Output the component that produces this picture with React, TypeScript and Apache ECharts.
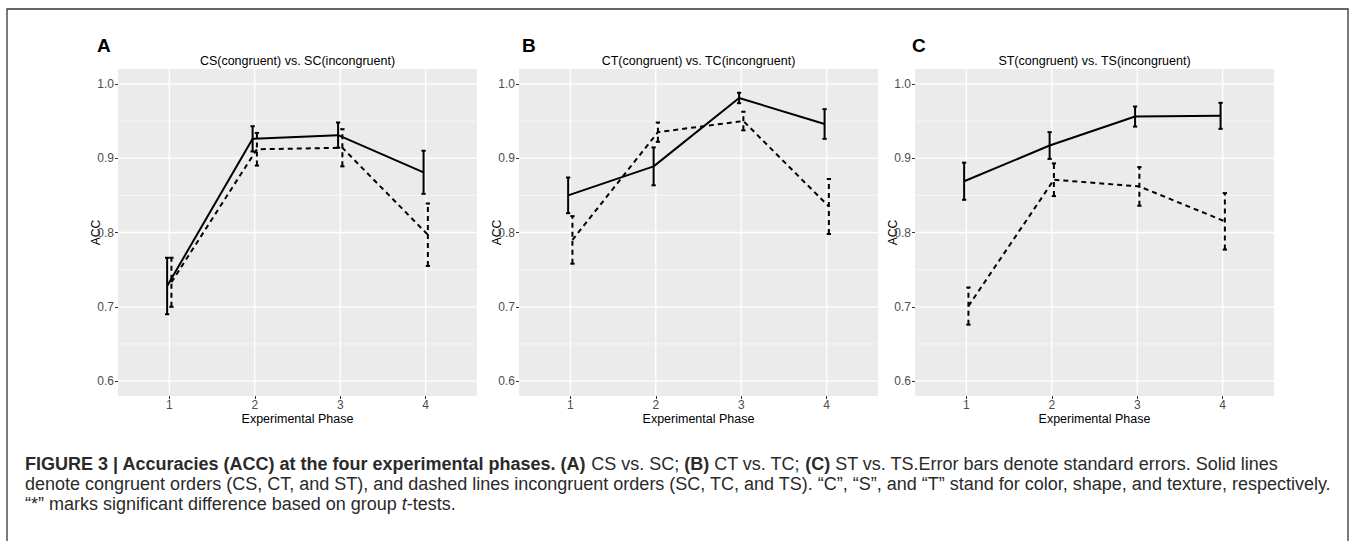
import React, { useEffect, useRef } from "react";
import * as echarts from "echarts";

// ---- data ----
const phases = [1, 2, 3, 4];
const yTicks = [0.6, 0.7, 0.8, 0.9, 1.0];
const yMinorTicks = [0.65, 0.75, 0.85, 0.95];
const panelLetters = ["A", "B", "C"];
const panelTitles = [
  "CS(congruent) vs. SC(incongruent)",
  "CT(congruent) vs. TC(incongruent)",
  "ST(congruent) vs. TS(incongruent)",
];

// Panel A: CS (congruent) / SC (incongruent)
const csMean = [0.728, 0.926, 0.931, 0.881];
const csSe = [0.038, 0.017, 0.017, 0.029];
const scMean = [0.733, 0.912, 0.914, 0.797];
const scSe = [0.033, 0.022, 0.025, 0.042];

// Panel B: CT (congruent) / TC (incongruent)
const ctMean = [0.85, 0.889, 0.981, 0.946];
const ctSe = [0.024, 0.0255, 0.007, 0.02];
const tcMean = [0.79, 0.935, 0.95, 0.835];
const tcSe = [0.032, 0.013, 0.0125, 0.037];

// Panel C: ST (congruent) / TS (incongruent)
const stMean = [0.869, 0.917, 0.956, 0.957];
const stSe = [0.025, 0.018, 0.0135, 0.0175];
const tsMean = [0.701, 0.871, 0.862, 0.815];
const tsSe = [0.025, 0.022, 0.026, 0.038];

const panels = [
  { cMean: csMean, cSe: csSe, iMean: scMean, iSe: scSe },
  { cMean: ctMean, cSe: ctSe, iMean: tcMean, iSe: tcSe },
  { cMean: stMean, cSe: stSe, iMean: tsMean, iSe: tsSe },
];

const xAxisName = "Experimental Phase";
const yAxisName = "ACC";

const captionLine1 =
  "{b|FIGURE 3 | Accuracies (ACC) at the four experimental phases. (A)} CS vs. SC; {b|(B)} CT vs. TC; {b|(C)} ST vs. TS.Error bars denote standard errors. Solid lines";
const captionLine2 =
  "denote congruent orders (CS, CT, and ST), and dashed lines incongruent orders (SC, TC, and TS). \u201CC\u201D, \u201CS\u201D, and \u201CT\u201D stand for color, shape, and texture, respectively.";
const captionLine3 = "\u201C*\u201D marks significant difference based on group {i|t}-tests.";

// ---- layout ----
const FONT = "Liberation Sans, Arial, Helvetica, sans-serif";
const gridLefts = [118, 519, 915];
const gridWidth = 359;
const gridTop = 69;
const gridHeight = 327;
const dodge = 0.025;
const DASH = [5, 4];

export default function App() {
  const ref = useRef<HTMLDivElement>(null);

  useEffect(() => {
    if (!ref.current) return;
    const chart = echarts.init(ref.current, null, { renderer: "svg" });

    const grids: any[] = [];
    const xAxes: any[] = [];
    const yAxes: any[] = [];
    const series: any[] = [];
    const graphics: any[] = [];

    panels.forEach((p, k) => {
      grids.push({
        left: gridLefts[k],
        top: gridTop,
        width: gridWidth,
        height: gridHeight,
        show: true,
        backgroundColor: "#ebebeb",
        borderWidth: 0,
        containLabel: false,
      });
      xAxes.push({
        type: "value",
        gridIndex: k,
        min: 0.4,
        max: 4.6,
        axisLine: { show: false },
        splitLine: { show: false },
        axisTick: {
          show: true,
          customValues: phases,
          length: 3,
          lineStyle: { color: "#333", width: 1 },
        },
        axisLabel: {
          customValues: phases,
          formatter: (v: number) => String(v),
          color: "#4d4d4d",
          fontSize: 12,
          fontFamily: FONT,
          margin: 3,
        },
        name: xAxisName,
        nameLocation: "middle",
        nameGap: 16,
        nameMoveOverlap: false,
        nameTextStyle: { color: "#000", fontSize: 12.5, fontFamily: FONT },
      });
      yAxes.push({
        type: "value",
        gridIndex: k,
        min: 0.58,
        max: 1.02,
        axisLine: { show: false },
        splitLine: { show: false },
        axisTick: {
          show: true,
          customValues: yTicks,
          length: 3,
          lineStyle: { color: "#333", width: 1 },
        },
        axisLabel: {
          customValues: yTicks,
          formatter: (v: number) => v.toFixed(1),
          color: "#4d4d4d",
          fontSize: 12,
          fontFamily: FONT,
          margin: 4,
        },
        name: yAxisName,
        nameLocation: "middle",
        nameRotate: 90,
        nameGap: 16,
        nameMoveOverlap: false,
        nameTextStyle: { color: "#000", fontSize: 12, fontFamily: FONT },
      });

      // grid lines: [kind, value] kind 0=vertical, 1=major horiz, 2=minor horiz
      const gridData: number[][] = [
        ...yMinorTicks.map((v) => [2, v]),
        ...yTicks.map((v) => [1, v]),
        ...phases.map((v) => [0, v]),
      ];
      series.push({
        type: "custom",
        xAxisIndex: k,
        yAxisIndex: k,
        silent: true,
        z: 1,
        clip: false,
        encode: { x: [], y: [] },
        data: gridData,
        renderItem: (params: any, api: any) => {
          const kind = api.value(0);
          const v = api.value(1);
          const cs = params.coordSys;
          if (kind === 0) {
            const x = api.coord([v, 1])[0];
            return {
              type: "line",
              shape: { x1: x, y1: cs.y, x2: x, y2: cs.y + cs.height },
              style: { stroke: "#ffffff", lineWidth: 1.3 },
            };
          }
          const y = api.coord([1, v])[1];
          return {
            type: "line",
            shape: { x1: cs.x, y1: y, x2: cs.x + cs.width, y2: y },
            style: { stroke: "#ffffff", lineWidth: kind === 1 ? 1.3 : 0.6 },
          };
        },
      });

      const addGroup = (mean: number[], se: number[], off: number, dashed: boolean) => {
        series.push({
          type: "line",
          xAxisIndex: k,
          yAxisIndex: k,
          z: 3,
          symbol: "none",
          silent: true,
          lineStyle: { color: "#000", width: 2, type: dashed ? DASH : "solid" },
          data: phases.map((ph, i) => [ph + off, mean[i]]),
        });
        series.push({
          type: "custom",
          xAxisIndex: k,
          yAxisIndex: k,
          z: 4,
          silent: true,
          clip: false,
          encode: { x: 0, y: [1, 2] },
          data: phases.map((ph, i) => [ph + off, mean[i] - se[i], mean[i] + se[i]]),
          renderItem: (params: any, api: any) => {
            const x = api.value(0);
            const lo = api.coord([x, api.value(1)]);
            const hi = api.coord([x, api.value(2)]);
            const hw = api.size([0.025, 0])[0];
            const style: any = { stroke: "#000", lineWidth: 2 };
            if (dashed) style.lineDash = DASH;
            return {
              type: "group",
              children: [
                { type: "line", shape: { x1: lo[0], y1: lo[1], x2: hi[0], y2: hi[1] }, style },
                { type: "line", shape: { x1: hi[0] - hw, y1: hi[1], x2: hi[0] + hw, y2: hi[1] }, style: { stroke: "#000", lineWidth: 2 } },
                { type: "line", shape: { x1: lo[0] - hw, y1: lo[1], x2: lo[0] + hw, y2: lo[1] }, style: { stroke: "#000", lineWidth: 2 } },
              ],
            };
          },
        });
      };
      addGroup(p.cMean, p.cSe, -dodge, false);
      addGroup(p.iMean, p.iSe, dodge, true);

      graphics.push({
        type: "text",
        x: gridLefts[k] + gridWidth / 2,
        y: 61,
        style: {
          text: panelTitles[k],
          fill: "#000",
          font: `12.5px ${FONT}`,
          textAlign: "center",
          textVerticalAlign: "middle",
        },
      });
    });

    const letterX = [97, 522, 912];
    panelLetters.forEach((l, k) => {
      graphics.push({
        type: "text",
        x: letterX[k],
        y: 45,
        style: {
          text: l,
          fill: "#000",
          font: `bold 19px ${FONT}`,
          textAlign: "left",
          textVerticalAlign: "middle",
        },
      });
    });

    // frame
    graphics.push({
      type: "polyline",
      shape: { points: [[7, 541], [7, 9], [1348, 9], [1348, 541]] },
      style: { stroke: "#333", lineWidth: 1.3, fill: "none" },
      silent: true,
    });

    const capFont = 18;
    const capColor = "#2a2a2a";
    const rich = {
      b: { fontWeight: "bold", fontSize: capFont, fontFamily: FONT, fill: capColor },
      i: { fontStyle: "italic", fontSize: capFont, fontFamily: FONT, fill: capColor },
    };
    [captionLine1, captionLine2, captionLine3].forEach((t, i) => {
      graphics.push({
        type: "text",
        x: 25,
        y: 464 + i * 20,
        style: {
          text: t,
          rich,
          fill: capColor,
          fontSize: capFont,
          fontFamily: FONT,
          textAlign: "left",
          textVerticalAlign: "middle",
        },
      });
    });

    chart.setOption({
      animation: false,
      backgroundColor: "#ffffff",
      grid: grids,
      xAxis: xAxes,
      yAxis: yAxes,
      series,
      graphic: graphics,
    });

    return () => chart.dispose();
  }, []);

  return (
    <div
      ref={ref}
      style={{ position: "fixed", left: 0, top: 0, width: 1357, height: 541 }}
    />
  );
}
